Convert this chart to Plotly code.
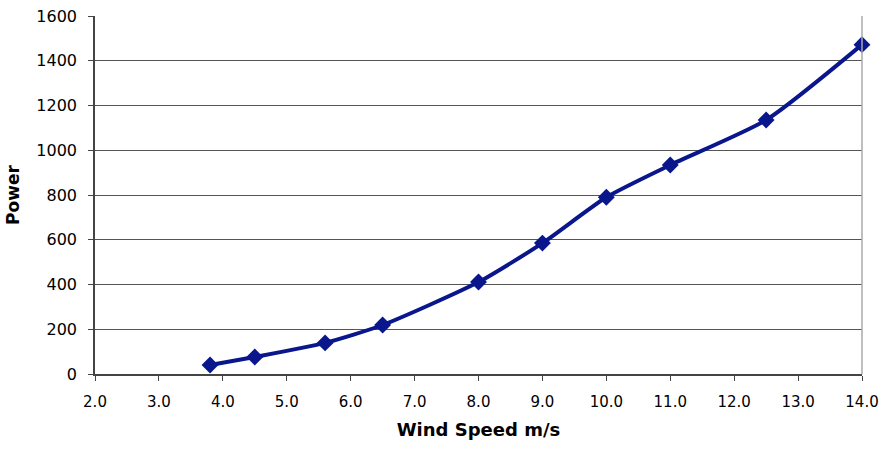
import plotly.graph_objects as go

wind_speed = [3.8, 4.5, 5.6, 6.5, 8.0, 9.0, 10.0, 11.0, 12.5, 14.0]
power = [40, 76, 139, 219, 411, 585, 790, 934, 1135, 1472]

x_ticks = [2, 3, 4, 5, 6, 7, 8, 9, 10, 11, 12, 13, 14]
x_tick_labels = ["2.0", "3.0", "4.0", "5.0", "6.0", "7.0", "8.0", "9.0", "10.0", "11.0", "12.0", "13.0", "14.0"]
y_ticks = [0, 200, 400, 600, 800, 1000, 1200, 1400, 1600]

navy = "#0a168c"

fig = go.Figure()
fig.add_trace(go.Scatter(
    x=wind_speed, y=power, mode="lines+markers",
    line=dict(color=navy, width=4, shape="spline", smoothing=0.6),
    marker=dict(symbol="diamond", size=13, color=navy),
    showlegend=False, cliponaxis=False,
))

fig.update_layout(
    width=879, height=452,
    margin=dict(l=95, r=17, t=16, b=78),
    paper_bgcolor="white", plot_bgcolor="white",
    font=dict(family="DejaVu Sans", size=16, color="black"),
    shapes=[dict(type="line", xref="paper", yref="paper", x0=1, x1=1, y0=0, y1=1,
                 line=dict(color="#aaaaaa", width=1.5))],
)
fig.update_xaxes(
    range=[2, 14], tickvals=x_ticks, ticktext=x_tick_labels,
    showgrid=False, zeroline=False, automargin=False,
    showline=True, linecolor="#444444", linewidth=1.5,
    ticks="outside", ticklen=5, tickcolor="#444444",
    ticklabelstandoff=8, ticklabeloverflow="allow",
    tickfont=dict(size=15),
    title=dict(text="<b>Wind Speed m/s</b>", font=dict(size=18), standoff=14),
)
fig.update_yaxes(
    range=[0, 1600], tickvals=y_ticks,
    showgrid=True, gridcolor="#555555", gridwidth=1,
    zeroline=False, automargin=False,
    showline=True, linecolor="#444444", linewidth=1.5,
    ticks="outside", ticklen=5, tickcolor="#444444",
    ticklabelstandoff=8, ticklabeloverflow="allow",
    tickfont=dict(size=16),
    title=dict(text="<b>Power</b>", font=dict(size=17), standoff=12),
)

fig.write_html(
    "out.html",
    config={"displayModeBar": False},
    post_script="document.body.style.margin='0';document.body.style.overflow='hidden';",
)
